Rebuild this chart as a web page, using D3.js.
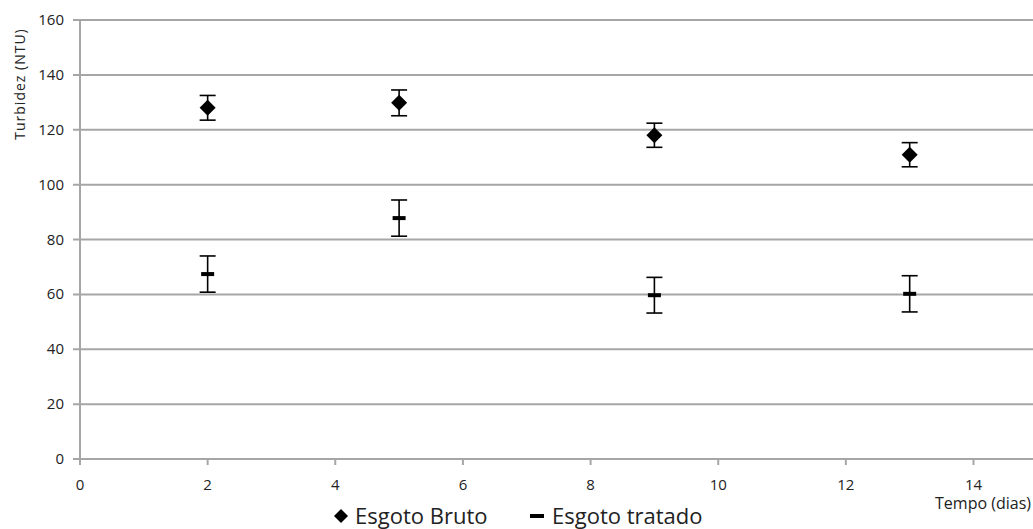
<!DOCTYPE html>
<html>
<head>
<meta charset="utf-8">
<script src="https://cdn.jsdelivr.net/npm/d3@7"></script>
<style>
    body { margin: 0; background: #fff; }
    svg { display: block; font-family: "Open Sans", "Noto Sans", sans-serif; }
</style>
</head>
<body>
<div id="chart"></div>
<script>
// days of sampling
const days = [2, 5, 9, 13];
// turbidity (NTU) and standard deviation
const brutoValues = [128, 129.8, 118, 110.9];
const brutoErrors = [4.5, 4.7, 4.4, 4.4];
const tratadoValues = [67.4, 87.8, 59.7, 60.2];
const tratadoErrors = [6.6, 6.6, 6.5, 6.6];
const xTicks = [0, 2, 4, 6, 8, 10, 12, 14];
const yTicks = [0, 20, 40, 60, 80, 100, 120, 140, 160];

const width = 1033;
const height = 529;
const plotLeft = 80, plotRight = 1033, plotTop = 20, plotBottom = 459;

const svg = d3.select('#chart').append('svg')
    .attr('width', width)
    .attr('height', height);

const x = d3.scaleLinear().domain([0, 14]).range([plotLeft, 973.5]);
const y = d3.scaleLinear().domain([0, 160]).range([plotBottom, plotTop]);

const gridColor = '#a6a6a6';

// horizontal gridlines (also act as the axis line at 0)
svg.append('g')
    .selectAll('line')
    .data(yTicks)
    .enter()
    .append('line')
    .attr('x1', plotLeft - 7)
    .attr('x2', plotRight)
    .attr('y1', d => y(d))
    .attr('y2', d => y(d))
    .attr('stroke', gridColor)
    .attr('stroke-width', 2);

// vertical axis line
svg.append('line')
    .attr('x1', plotLeft).attr('x2', plotLeft)
    .attr('y1', y(160)).attr('y2', plotBottom + 6)
    .attr('stroke', gridColor)
    .attr('stroke-width', 2);

// x ticks
svg.append('g')
    .selectAll('line')
    .data(xTicks)
    .enter()
    .append('line')
    .attr('x1', d => x(d))
    .attr('x2', d => x(d))
    .attr('y1', plotBottom)
    .attr('y2', plotBottom + 6)
    .attr('stroke', gridColor)
    .attr('stroke-width', 2);

// y tick labels
svg.append('g')
    .selectAll('text')
    .data(yTicks)
    .enter()
    .append('text')
    .attr('x', 64)
    .attr('y', d => y(d) + 5)
    .attr('text-anchor', 'end')
    .attr('font-size', 15)
    .attr('fill', '#222')
    .text(d => d);

// x tick labels
svg.append('g')
    .selectAll('text')
    .data(xTicks)
    .enter()
    .append('text')
    .attr('x', d => x(d))
    .attr('y', 490)
    .attr('text-anchor', 'middle')
    .attr('font-size', 15)
    .attr('fill', '#222')
    .text(d => d);

// axis titles
svg.append('text')
    .attr('transform', 'translate(25,84) rotate(-90)')
    .attr('text-anchor', 'middle')
    .attr('font-size', 14)
    .attr('letter-spacing', 1)
    .attr('fill', '#222')
    .text('Turbidez (NTU)');

svg.append('text')
    .attr('x', 1031)
    .attr('y', 509)
    .attr('text-anchor', 'end')
    .attr('font-size', 16)
    .attr('fill', '#222')
    .text('Tempo (dias)');

// error bars
function drawErrors(values, errors) {
    const g = svg.append('g').attr('stroke', '#000').attr('stroke-width', 1.6);
    days.forEach((d, i) => {
        const cx = x(d);
        const y1 = y(values[i] + errors[i]);
        const y2 = y(values[i] - errors[i]);
        g.append('line').attr('x1', cx).attr('x2', cx).attr('y1', y1).attr('y2', y2);
        g.append('line').attr('x1', cx - 8).attr('x2', cx + 8).attr('y1', y1).attr('y2', y1);
        g.append('line').attr('x1', cx - 8).attr('x2', cx + 8).attr('y1', y2).attr('y2', y2);
    });
}
drawErrors(brutoValues, brutoErrors);
drawErrors(tratadoValues, tratadoErrors);

const diamond = (s) => `M0,${-s}L${s},0L0,${s}L${-s},0Z`;

// Esgoto Bruto markers
svg.append('g')
    .selectAll('path')
    .data(brutoValues)
    .enter()
    .append('path')
    .attr('transform', (d, i) => `translate(${x(days[i])},${y(d)})`)
    .attr('d', diamond(8))
    .attr('fill', '#000');

// Esgoto tratado markers
svg.append('g')
    .selectAll('rect')
    .data(tratadoValues)
    .enter()
    .append('rect')
    .attr('x', (d, i) => x(days[i]) - 6.5)
    .attr('y', d => y(d) - 2)
    .attr('width', 13)
    .attr('height', 4)
    .attr('fill', '#000');

// legend
const legend = svg.append('g').attr('font-size', 22).attr('fill', '#222');
legend.append('path')
    .attr('transform', 'translate(341,516)')
    .attr('d', diamond(7))
    .attr('fill', '#000');
legend.append('text').attr('x', 355).attr('y', 524).text('Esgoto Bruto');
legend.append('rect')
    .attr('x', 530).attr('y', 514)
    .attr('width', 14).attr('height', 4)
    .attr('fill', '#000');
legend.append('text').attr('x', 552).attr('y', 524).text('Esgoto tratado');
</script>
</body>
</html>
